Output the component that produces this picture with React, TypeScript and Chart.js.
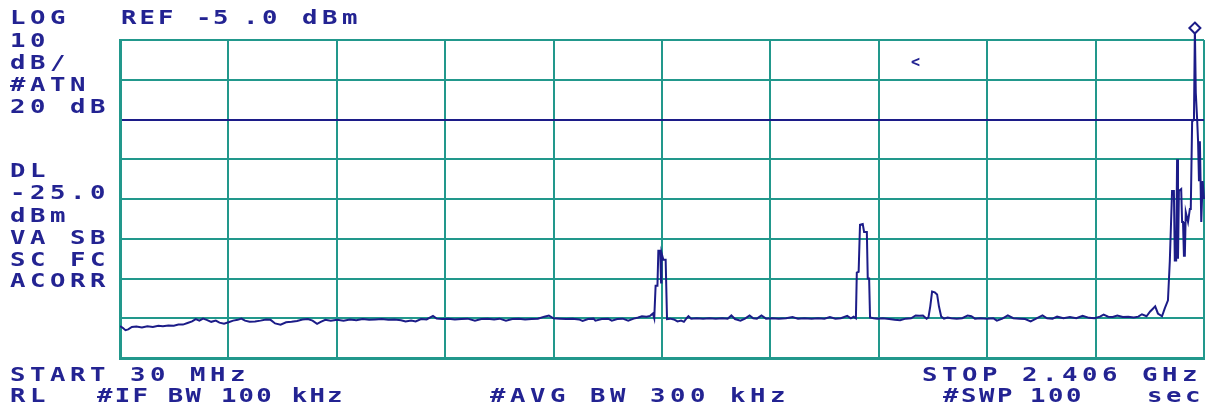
import React, { useEffect, useRef } from "react";
import { Chart, registerables } from "chart.js";

Chart.register(...registerables);

// ---- data (frequency in MHz, level in dBm) ----
const FREQ_MHZ: number[] = [
  30, 36, 42, 48, 56, 66, 78, 90, 102, 114, 124, 136, 148, 158, 168, 178, 188, 196, 204, 212,
  220, 230, 240, 248, 258, 268, 278, 288, 296, 304, 314, 326, 338, 350, 360, 370, 382, 394, 406, 418,
  430, 442, 452, 462, 470, 480, 492, 506, 520, 534, 548, 562, 576, 590, 604, 618, 632, 646,
  656, 668, 678, 690, 702, 716, 724, 736, 750, 764, 778, 792, 808, 822, 836, 850, 862, 876, 890, 904,
  918, 932, 946, 960, 970, 980, 994, 1008, 1022, 1036, 1044, 1056, 1068, 1072, 1086, 1100, 1108, 1120,
  1132, 1144, 1156, 1166, 1174, 1184, 1192, 1198, 1201, 1204, 1208, 1210, 1214, 1216, 1217, 1221, 1226, 1229,
  1236, 1244, 1252, 1260, 1266, 1272, 1276, 1282, 1294, 1308, 1322, 1336, 1350, 1362, 1370, 1378, 1390, 1400,
  1410, 1418, 1426, 1436, 1446, 1460, 1474, 1490, 1504, 1516, 1530, 1546, 1560, 1574, 1586, 1598, 1610, 1624,
  1632, 1638, 1643, 1645, 1649, 1652, 1658, 1661, 1667, 1669, 1672, 1674,
  1682, 1690, 1702, 1716, 1728, 1740, 1752, 1764, 1774, 1782, 1790, 1798, 1802, 1806, 1810, 1816, 1821, 1825,
  1830, 1836, 1844, 1852, 1864, 1876, 1888, 1896, 1904, 1916, 1930, 1944, 1952, 1964, 1976, 1988, 2002, 2014,
  2026, 2038, 2052, 2062, 2074, 2084, 2098, 2112, 2126, 2140, 2154, 2166, 2178, 2186, 2196, 2206, 2216, 2228,
  2240, 2252, 2262, 2270, 2280,
  2288, 2294, 2299, 2305, 2314, 2320, 2327, 2331, 2336, 2340, 2342, 2345, 2347, 2349, 2351, 2356, 2358, 2360,
  2362, 2364, 2366, 2371, 2373, 2375, 2377, 2380, 2384, 2386, 2388, 2391, 2393, 2395, 2397, 2400, 2403, 2406,
];

const LEVEL_DBM: number[] = [
  -77.0, -77.4, -78.0, -77.8, -77.2, -77.1, -77.3, -77.0, -77.2, -76.9, -77.0, -76.8, -76.9, -76.6, -76.6, -76.2, -75.8, -75.2, -75.6, -75.1,
  -75.4, -75.9, -75.6, -76.1, -76.4, -76.0, -75.6, -75.4, -75.1, -75.6, -75.9, -75.8, -75.6, -75.3, -75.4, -76.3, -76.6, -76.0, -75.9, -75.7,
  -75.3, -75.2, -75.6, -76.4, -75.9, -75.4, -75.6, -75.4, -75.6, -75.3, -75.5, -75.2, -75.4, -75.3, -75.2, -75.4, -75.3, -75.5,
  -75.8, -75.6, -75.8, -75.2, -75.3, -74.4, -75.1, -75.2, -75.1, -75.3, -75.2, -75.1, -75.6, -75.2, -75.1, -75.3, -75.1, -75.6, -75.2, -75.1,
  -75.3, -75.2, -75.1, -74.6, -74.3, -75.0, -75.1, -75.2, -75.1, -75.3, -75.7, -75.2, -75.1, -75.6, -75.2, -75.1, -75.6, -75.2,
  -75.1, -75.6, -75.1, -74.8, -74.5, -74.6, -74.4, -73.8, -75.0, -66.8, -66.8, -58.0, -58.0, -66.0, -58.6, -60.3, -60.3, -75.2,
  -75.1, -75.3, -75.8, -75.6, -75.9, -75.0, -74.5, -75.1, -75.0, -75.1, -75.0, -75.1, -75.0, -75.1, -74.3, -75.2, -75.6, -75.1,
  -74.3, -75.0, -75.1, -74.3, -75.1, -75.0, -75.1, -75.0, -74.7, -75.1, -75.0, -75.1, -75.0, -75.1, -74.7, -75.1, -75.0, -74.4,
  -75.0, -74.6, -75.0, -63.5, -63.3, -51.5, -51.3, -53.3, -53.3, -65.0, -65.0, -74.8,
  -75.0, -75.1, -75.0, -75.2, -75.4, -75.5, -75.1, -75.0, -74.3, -74.4, -74.3, -75.1, -74.8, -72.0, -68.3, -68.5, -69.0, -72.0,
  -74.6, -75.1, -74.8, -75.0, -75.1, -75.0, -74.3, -74.5, -75.1, -75.0, -75.1, -75.0, -75.6, -75.1, -74.3, -75.0, -75.1, -75.2,
  -75.8, -75.1, -74.3, -75.0, -75.1, -74.6, -75.0, -74.7, -75.0, -74.4, -74.9, -75.0, -74.6, -74.1, -74.6, -74.7, -74.3, -74.7,
  -74.6, -74.8, -74.6, -74.0, -74.5,
  -73.3, -72.6, -72.0, -73.8, -74.5, -72.5, -70.5, -60.8, -43.0, -43.0, -60.5, -60.5, -35.0, -60.0, -43.0, -42.5, -50.8, -50.8,
  -59.3, -59.3, -48.3, -50.8, -50.8, -47.5, -47.5, -25.5, -25.0, -2.0, -18.3, -25.0, -30.5, -40.5, -30.5, -50.8, -40.5, -45.0,
];

const X_GRID_MHZ: number[] = [30, 267.6, 505.2, 742.8, 980.4, 1218, 1455.6, 1693.2, 1930.8, 2168.4, 2406];
const Y_GRID_DBM: number[] = [-85, -75, -65, -55, -45, -35, -25, -15, -5];
const DISPLAY_LINE_DBM = -25;
const MARKER_MHZ = 2386;
const MARKER_DBM = -2;

// ---- screen annotations (instrument text) ----
type Note = { text: string; x: number; y: number; pitch?: number };
const NOTES: Note[] = [
  { text: "LOG", x: 10, y: 24 },
  { text: "REF", x: 121, y: 24, pitch: 18.5 },
  { text: "-5", x: 196, y: 24, pitch: 17 },
  { text: ".0", x: 243, y: 24, pitch: 19 },
  { text: "dBm", x: 302, y: 24 },
  { text: "10", x: 10, y: 47 },
  { text: "dB/", x: 10, y: 69 },
  { text: "#ATN", x: 10, y: 91 },
  { text: "20 dB", x: 10, y: 113 },
  { text: "DL", x: 10, y: 177 },
  { text: "-25.0", x: 10, y: 199 },
  { text: "dBm", x: 10, y: 222 },
  { text: "VA SB", x: 10, y: 244 },
  { text: "SC FC", x: 10, y: 266 },
  { text: "ACORR", x: 10, y: 287 },
  { text: "START 30 MHz", x: 10, y: 381 },
  { text: "STOP 2.406 GHz", x: 922, y: 381 },
  { text: "RL", x: 10, y: 402 },
  { text: "#IF BW 100 kHz", x: 97, y: 402, pitch: 17.7 },
  { text: "#AVG BW 300 kHz", x: 490, y: 402 },
  { text: "#SWP", x: 943, y: 402, pitch: 18 },
  { text: "100", x: 1030, y: 402, pitch: 18 },
  { text: "sec", x: 1147, y: 402, pitch: 19 },
];

const TRACE = "#1c1c88";
const TEXT = "#232392";
const GRID = "#22988c";

const notesPlugin = {
  id: "instrumentNotes",
  afterDraw(chart: any) {
    const ctx = chart.ctx as CanvasRenderingContext2D;
    ctx.save();
    ctx.fillStyle = TEXT;
    ctx.font = 'bold 19px "DejaVu Sans Mono"';
    ctx.textBaseline = "alphabetic";
    ctx.textAlign = "left";
    for (const n of NOTES) {
      const p = n.pitch ?? 20;
      Array.from(n.text).forEach((ch, i) => {
        ctx.save();
        ctx.translate(n.x + i * p, n.y);
        ctx.scale(1.35, 1);
        ctx.fillText(ch, 0, 0);
        ctx.restore();
      });
    }
    // small marker-delta symbol
    ctx.font = 'bold 15px "DejaVu Sans Mono"';
    ctx.fillText("<", 911, 67);
    ctx.restore();
  },
};

const markerPlugin = {
  id: "peakMarker",
  afterDatasetsDraw(chart: any) {
    const ctx = chart.ctx as CanvasRenderingContext2D;
    const x = chart.scales.x.getPixelForValue(MARKER_MHZ);
    const y = chart.scales.y.getPixelForValue(MARKER_DBM);
    const r = 5.5;
    ctx.save();
    ctx.strokeStyle = TRACE;
    ctx.fillStyle = "#ffffff";
    ctx.lineWidth = 2;
    ctx.beginPath();
    ctx.moveTo(x, y - r);
    ctx.lineTo(x + r, y);
    ctx.lineTo(x, y + r);
    ctx.lineTo(x - r, y);
    ctx.closePath();
    ctx.fill();
    ctx.stroke();
    ctx.restore();
  },
};

export default function App() {
  const ref = useRef<HTMLCanvasElement | null>(null);

  useEffect(() => {
    if (!ref.current) return;
    const chart = new Chart(ref.current, {
      type: "line",
      data: {
        datasets: [
          {
            label: "trace",
            data: FREQ_MHZ.map((f, i) => ({ x: f, y: LEVEL_DBM[i] })),
            borderColor: TRACE,
            borderWidth: 2,
            pointRadius: 0,
            tension: 0,
            fill: false,
            clip: { left: 0, right: 2, top: 20, bottom: 0 } as any,
          },
        ],
      },
      options: {
        responsive: false,
        animation: false,
        devicePixelRatio: 1,
        layout: { padding: { left: 120, top: 40, right: 8, bottom: 51 } },
        plugins: { legend: { display: false }, tooltip: { enabled: false }, title: { display: false } },
        scales: {
          x: {
            type: "linear",
            min: X_GRID_MHZ[0],
            max: X_GRID_MHZ[X_GRID_MHZ.length - 1],
            afterBuildTicks: (s: any) => {
              s.ticks = X_GRID_MHZ.map((v) => ({ value: v }));
            },
            ticks: { display: false },
            grid: { color: GRID, lineWidth: 2, drawTicks: false },
            border: { display: true, color: GRID, width: 3 },
          },
          y: {
            type: "linear",
            min: Y_GRID_DBM[0],
            max: Y_GRID_DBM[Y_GRID_DBM.length - 1],
            afterBuildTicks: (s: any) => {
              s.ticks = Y_GRID_DBM.map((v) => ({ value: v }));
            },
            ticks: { display: false },
            grid: {
              color: (c: any) => (c.tick && c.tick.value === DISPLAY_LINE_DBM ? TRACE : GRID),
              lineWidth: 2,
              drawTicks: false,
            },
            border: { display: true, color: GRID, width: 3 },
          },
        },
      },
      plugins: [notesPlugin, markerPlugin],
    });
    return () => chart.destroy();
  }, []);

  return (
    <div style={{ position: "absolute", left: 0, top: 0, width: 1212, height: 409, background: "#ffffff" }}>
      <canvas ref={ref} width={1212} height={409} style={{ display: "block" }} />
    </div>
  );
}
